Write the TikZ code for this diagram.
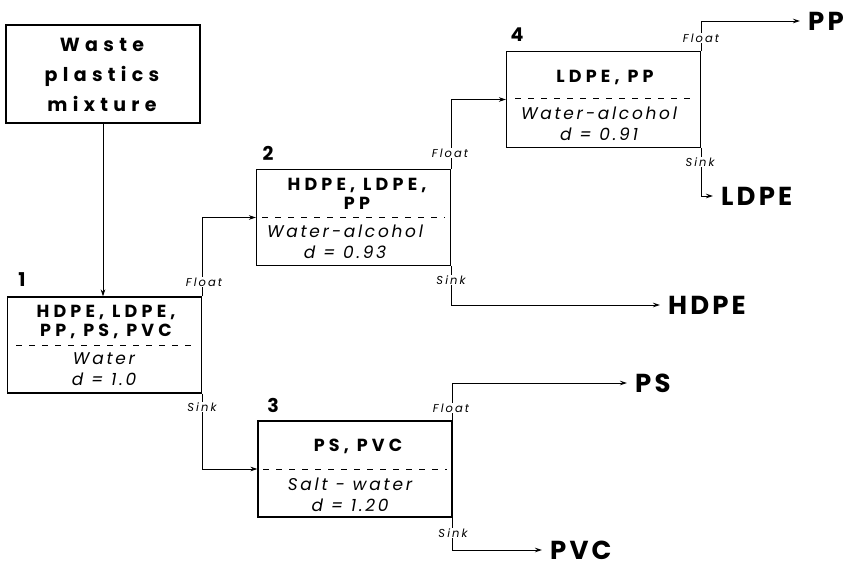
\documentclass[tikz,border=0pt]{standalone}
\usepackage{fontspec}
\setmainfont{Poppins}
\newfontfamily\wide{Poppins}[LetterSpace=24]
\newfontfamily\subf{Poppins}[LetterSpace=16]
\newfontfamily\outf{Poppins}[LetterSpace=12]
\newfontfamily\tagf{Poppins}[LetterSpace=18]
\newfontfamily\wider{Poppins}[LetterSpace=28]
\usetikzlibrary{arrows.meta,calc}
\begin{document}
\begin{tikzpicture}[x=1pt,y=-1pt,
  box/.style={draw,line width=1.1pt,minimum width=194pt,minimum height=96pt,inner sep=0pt},
  arr/.style={line width=0.9pt,-{Stealth[length=7pt,width=4.5pt]}},
  main/.style={font=\wide\bfseries\fontsize{17.5}{19}\selectfont,align=center,inner sep=0pt},
  sub/.style={font=\subf\itshape\fontsize{17}{21}\selectfont,align=center,inner sep=0pt},
  num/.style={font=\bfseries\fontsize{19}{20}\selectfont,inner sep=0pt},
  tag/.style={font=\tagf\itshape\fontsize{11.5}{12}\selectfont,fill=white,inner sep=1pt},
  outlabel/.style={font=\outf\bfseries\fontsize{26}{28}\selectfont,anchor=west,inner xsep=8pt,inner ysep=0pt},
  sep/.style={dash pattern=on 6pt off 7pt,line width=0.7pt}
]
\useasboundingbox (0,0) rectangle (851,567);
% boxes
\node[box,minimum height=98pt] (w) at (103,74) {};
\node[box] (b1) at (104.5,345) {};
\node[box] (b2) at (353.5,217.5) {};
\node[box] (b3) at (355,469) {};
\node[box] (b4) at (603.5,99.5) {};
% box texts
\node[font=\wider\bfseries\fontsize{19}{30}\selectfont,align=center,inner sep=0pt] (wt) at (102,75) {Waste\\plastics\\mixture};
\node[main] (t1) at (106,322) {HDPE, LDPE,\\PP, PS, PVC};
\node[sub] (s1) at (104,369) {Water\\d = 1.0};
\node[main] (t2) at (357,193.5) {HDPE, LDPE,\\PP};
\node[sub] (s2) at (345,242) {Water-alcohol\\d = 0.93};
\node[main] (t3) at (358,446) {PS, PVC};
\node[sub] (s3) at (350,495) {Salt - water\\d = 1.20};
\node[main] (t4) at (605,77) {LDPE, PP};
\node[sub] (s4) at (599,124) {Water-alcohol\\d = 0.91};
% dashed separators
\draw[sep] (16,345) -- (197,345);
\draw[sep] (262,217) -- (445,217);
\draw[sep] (263,469) -- (447,469);
\draw[sep] (515,98) -- (697,98);
% numbers
\node[num] (n1) at (22,280) {1};
\node[num] (n2) at (268,153) {2};
\node[num] (n3) at (273,405) {3};
\node[num] (n4) at (517,35) {4};
% outputs
\node[outlabel] (pp) at (800,21) {PP};
\node[outlabel] (ldpe) at (713,196) {LDPE};
\node[outlabel] (hdpe) at (660,305) {HDPE};
\node[outlabel] (ps) at (627,383) {PS};
\node[outlabel] (pvc) at (542,550) {PVC};
% connectors
\draw[arr] (w.south) -- (w.south |- b1.north);
\draw[arr] (b1.north east) |- (b2.west);
\draw[arr] (b1.south east) |- (b3.west);
\draw[arr] (b2.north east) |- (b4.west);
\draw[arr] (b2.south east) |- (hdpe.west);
\draw[arr] (b4.north east) |- (pp.west);
\draw[arr] (b4.south east) |- (ldpe.west);
\draw[arr] (b3.north east) |- (ps.west);
\draw[arr] (b3.south east) |- (pvc.west);
% float / sink tags
\node[tag] (f1) at (204,282) {Float};
\node[tag] (k1) at (202,407) {Sink};
\node[tag] (f2) at (450,153) {Float};
\node[tag] (k2) at (451,280) {Sink};
\node[tag] (f4) at (701,38) {Float};
\node[tag] (k4) at (700,162) {Sink};
\node[tag] (f3) at (451,408) {Float};
\node[tag] (k3) at (453,533) {Sink};
\end{tikzpicture}
\end{document}
